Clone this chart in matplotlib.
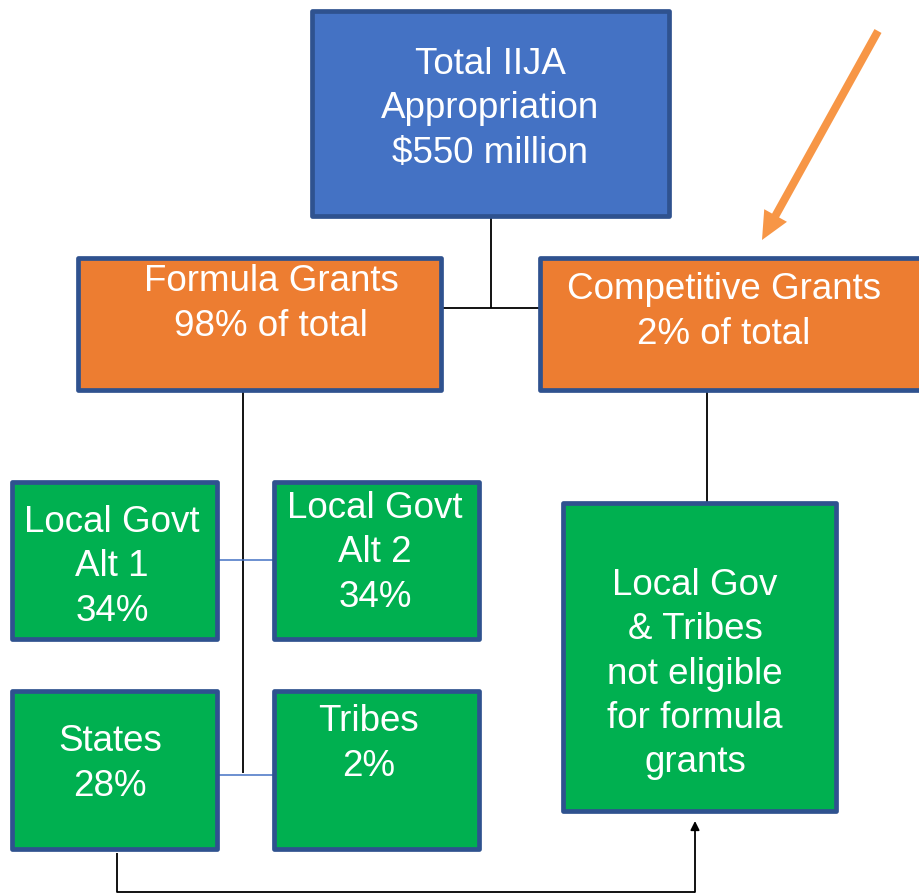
import matplotlib.pyplot as plt
from matplotlib.patches import Rectangle, FancyArrow

plt.rcParams['font.family'] = ['Liberation Sans', 'DejaVu Sans']

# box texts
top_label = "Total IIJA\nAppropriation\n$550 million"
grant_names = ["Formula Grants", "Competitive Grants"]
grant_shares = ["98%", "2%"]
recipients = ["Local Govt\nAlt 1", "Local Govt\nAlt 2", "States", "Tribes"]
recipient_shares = ["34%", "34%", "28%", "2%"]
competitive_note = "Local Gov\n& Tribes\nnot eligible\nfor formula\ngrants"

BLUE = '#4472C4'
ORANGE = '#ED7D31'
GREEN = '#00B050'
EDGE = '#2F528F'

fig = plt.figure(figsize=(9.2, 8.94), dpi=100)
ax = fig.add_axes([0, 0, 1, 1])
ax.set_xlim(0, 920)
ax.set_ylim(894, 0)
ax.axis('off')


def box(x0, y0, x1, y1, color, text, tx, ty):
    ax.add_patch(Rectangle((x0, y0), x1 - x0, y1 - y0, facecolor=color,
                           edgecolor=EDGE, linewidth=3.4, joinstyle='round', zorder=3))
    ax.text(tx, ty, text, ha='center', va='center', color='white',
            fontsize=26.5, linespacing=1.34, zorder=4)


def line(xs, ys, color='black', lw=1.3):
    ax.plot(xs, ys, color=color, lw=lw, zorder=2, solid_capstyle='butt')


# connectors
line([491, 491], [216, 308])
line([441, 540], [308, 308])
line([707, 707], [390, 503])
line([243, 243], [390, 773])
line([217, 274], [560, 560], color='#4472C4', lw=1.1)
line([217, 274], [775, 775], color='#4472C4', lw=1.1)
line([117, 117, 695], [853, 892, 892])
ax.annotate('', xy=(695, 821), xytext=(695, 892),
            arrowprops=dict(arrowstyle='-|>', color='black', lw=1.3,
                            mutation_scale=13, shrinkA=0, shrinkB=0))

# boxes
box(312, 11, 669, 216, BLUE, top_label, 490, 109)
box(78, 258, 441, 390, ORANGE,
    f"{grant_names[0]}\n{grant_shares[0]} of total", 271, 304)
box(540, 258, 930, 390, ORANGE,
    f"{grant_names[1]}\n{grant_shares[1]} of total", 724, 312)

layout = [(12, 482, 217, 639, 112, 567),
          (274, 482, 479, 639, 375, 553),
          (12, 691, 217, 849, 110, 764),
          (274, 691, 479, 849, 369, 744)]
for (x0, y0, x1, y1, tx, ty), name, share in zip(layout, recipients, recipient_shares):
    box(x0, y0, x1, y1, GREEN, f"{name}\n{share}", tx, ty)

box(563, 503, 836, 811, GREEN, competitive_note, 695, 674)

# orange pointer arrow
ax.add_patch(FancyArrow(878, 31, -(878 - 762), 240 - 31, width=8,
                        head_width=26, head_length=28, length_includes_head=True,
                        color='#F79646', linewidth=0, zorder=5))

fig.savefig('out.png', dpi=100)
